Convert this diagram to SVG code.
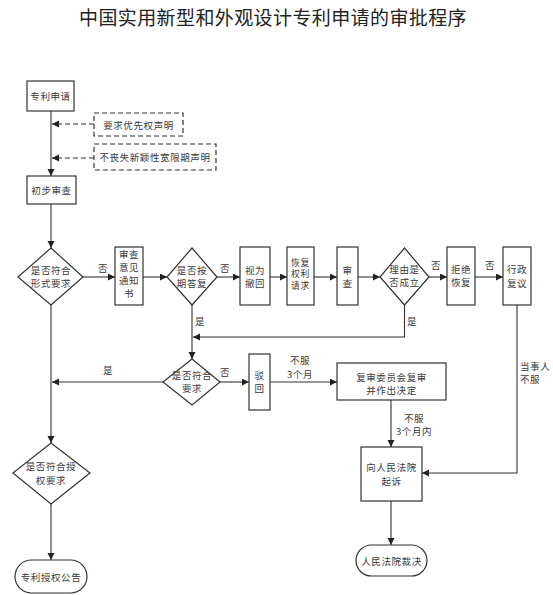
<svg xmlns="http://www.w3.org/2000/svg" width="553" height="595" viewBox="0 0 553 595">
<style>
.t{font-family:"Noto Sans CJK SC","Noto Sans CJK TC",sans-serif;font-size:9.5px;fill:#3a3a3a;text-anchor:middle;dominant-baseline:central;letter-spacing:0.6px}
.s{font-size:8.8px}
.l{text-anchor:start}
.title{font-family:"Noto Sans CJK SC","Noto Sans CJK TC",sans-serif;font-size:19px;fill:#222;text-anchor:middle;letter-spacing:0.4px}
.box{fill:#fff;stroke:#333;stroke-width:1.2}
.dbox{fill:none;stroke:#333;stroke-width:1.2;stroke-dasharray:5,3}
.ln{fill:none;stroke:#333;stroke-width:1.1}
.dl{fill:none;stroke:#333;stroke-width:1.2;stroke-dasharray:5,3}
</style>
<defs>
<marker id="ah" markerWidth="8" markerHeight="8" refX="7" refY="3.5" orient="auto" markerUnits="userSpaceOnUse">
<path d="M0,0 L7,3.5 L0,7 Z" fill="#222"/>
</marker>
</defs>
<rect width="553" height="595" fill="#fff"/>
<text class="title" x="273" y="25">中国实用新型和外观设计专利申请的审批程序</text>

<g id="connectors">
<path class="ln" d="M51,111 V176" marker-end="url(#ah)"/>
<path class="dl" d="M94,124 H52" marker-end="url(#ah)"/>
<path class="dl" d="M94,158 H52" marker-end="url(#ah)"/>
<path class="ln" d="M51,204 V248" marker-end="url(#ah)"/>
<path class="ln" d="M83,277 H115" marker-end="url(#ah)"/>
<path class="ln" d="M143,277 H167" marker-end="url(#ah)"/>
<path class="ln" d="M217,277 H240" marker-end="url(#ah)"/>
<path class="ln" d="M270,277 H287" marker-end="url(#ah)"/>
<path class="ln" d="M314,277 H337" marker-end="url(#ah)"/>
<path class="ln" d="M358,277 H380" marker-end="url(#ah)"/>
<path class="ln" d="M429,277 H447" marker-end="url(#ah)"/>
<path class="ln" d="M475,277 H503" marker-end="url(#ah)"/>
<path class="ln" d="M404.5,305 V337 H193" marker-end="url(#ah)"/>
<path class="ln" d="M192,305 V359" marker-end="url(#ah)"/>
<path class="ln" d="M163,382 H52" marker-end="url(#ah)"/>
<path class="ln" d="M220,382 H249" marker-end="url(#ah)"/>
<path class="ln" d="M51,305 V443" marker-end="url(#ah)"/>
<path class="ln" d="M270,382 H337" marker-end="url(#ah)"/>
<path class="ln" d="M391,400 V447" marker-end="url(#ah)"/>
<path class="ln" d="M517,305 V473 H422" marker-end="url(#ah)"/>
<path class="ln" d="M391,501 V545" marker-end="url(#ah)"/>
<path class="ln" d="M51,504 V560" marker-end="url(#ah)"/>
<text class="t" x="103" y="268">否</text>
<text class="t" x="225" y="268">否</text>
<text class="t" x="436" y="265">否</text>
<text class="t" x="490" y="265">否</text>
<text class="t" x="412" y="321">是</text>
<text class="t" x="200" y="321">是</text>
<text class="t" x="108" y="370">是</text>
<text class="t" x="225" y="372">否</text>
<text class="t" x="300" y="360">不服</text>
<text class="t" x="300" y="374">3个月</text>
<text class="t" x="414" y="418">不服</text>
<text class="t" x="414" y="431">3个月内</text>
<text class="t l" x="520" y="366">当事人</text>
<text class="t l" x="520" y="379">不服</text>
</g>

<g id="n1"><rect class="box" x="27" y="81" width="47" height="30"/><text class="t" x="50.5" y="96">专利申请</text></g>
<g id="n2"><rect class="dbox" x="94" y="113" width="89" height="23"/><text class="t" x="138.5" y="124.5">要求优先权声明</text></g>
<g id="n3"><rect class="dbox" x="94" y="144" width="122" height="26"/><text class="t" x="155" y="157">不丧失新颖性宽限期声明</text></g>
<g id="n4"><rect class="box" x="27" y="176" width="49" height="28"/><text class="t" x="51.5" y="190">初步审查</text></g>
<g id="n5"><polygon class="box" points="51,248 83,277 51,305 18,277"/><text class="t" x="51" y="270">是否符合</text><text class="t" x="51" y="283">形式要求</text></g>
<g id="n6"><rect class="box" x="115" y="247" width="28" height="58"/><text class="t" x="129" y="254">审查</text><text class="t" x="129" y="267">意见</text><text class="t" x="129" y="280">通知</text><text class="t" x="129" y="293">书</text></g>
<g id="n7"><polygon class="box" points="192,248 217,277 192,305 167,277"/><text class="t" x="192" y="270">是否按</text><text class="t" x="192" y="283">期答复</text></g>
<g id="n8"><rect class="box" x="240" y="247" width="30" height="58"/><text class="t" x="255" y="270">视为</text><text class="t" x="255" y="283">撤回</text></g>
<g id="n9"><rect class="box" x="287" y="247" width="27" height="58"/><text class="t s" x="300.5" y="262">恢复</text><text class="t s" x="300.5" y="273.5">权利</text><text class="t s" x="300.5" y="285">请求</text></g>
<g id="n10"><rect class="box" x="337" y="247" width="21" height="58"/><text class="t" x="347.5" y="270">审</text><text class="t" x="347.5" y="283">查</text></g>
<g id="n11"><polygon class="box" points="404.5,248 429,277 404.5,305 380,277"/><text class="t" x="404.5" y="269">理由是</text><text class="t" x="404.5" y="282">否成立</text></g>
<g id="n12"><rect class="box" x="447" y="247" width="28" height="58"/><text class="t" x="461" y="269">拒绝</text><text class="t" x="461" y="282">恢复</text></g>
<g id="n13"><rect class="box" x="503" y="247" width="28" height="58"/><text class="t" x="517" y="269">行政</text><text class="t" x="517" y="282.5">复议</text></g>
<g id="n14"><polygon class="box" points="192,359 220,382 192,405 163,382"/><text class="t" x="192" y="375">是否符合</text><text class="t" x="192" y="388">要求</text></g>
<g id="n15"><rect class="box" x="249" y="354" width="21" height="56"/><text class="t" x="259.5" y="375">驳</text><text class="t" x="259.5" y="388">回</text></g>
<g id="n16"><rect class="box" x="337" y="363" width="109" height="37"/><text class="t" x="391.5" y="377">复审委员会复审</text><text class="t" x="391.5" y="390">并作出决定</text></g>
<g id="n17"><rect class="box" x="361" y="447" width="61" height="54"/><text class="t" x="391.5" y="467">向人民法院</text><text class="t" x="391.5" y="481">起诉</text></g>
<g id="n18"><polygon class="box" points="51,443 90,473 51,504 13,473"/><text class="t" x="51" y="466">是否符合授</text><text class="t" x="51" y="479.5">权要求</text></g>
<g id="n19"><rect class="box" x="15" y="560" width="72" height="33" rx="16.5"/><text class="t" x="51" y="577">专利授权公告</text></g>
<g id="n20"><rect class="box" x="356" y="545" width="71" height="31" rx="15.5"/><text class="t" x="391.5" y="560.5">人民法院裁决</text></g>
</svg>
